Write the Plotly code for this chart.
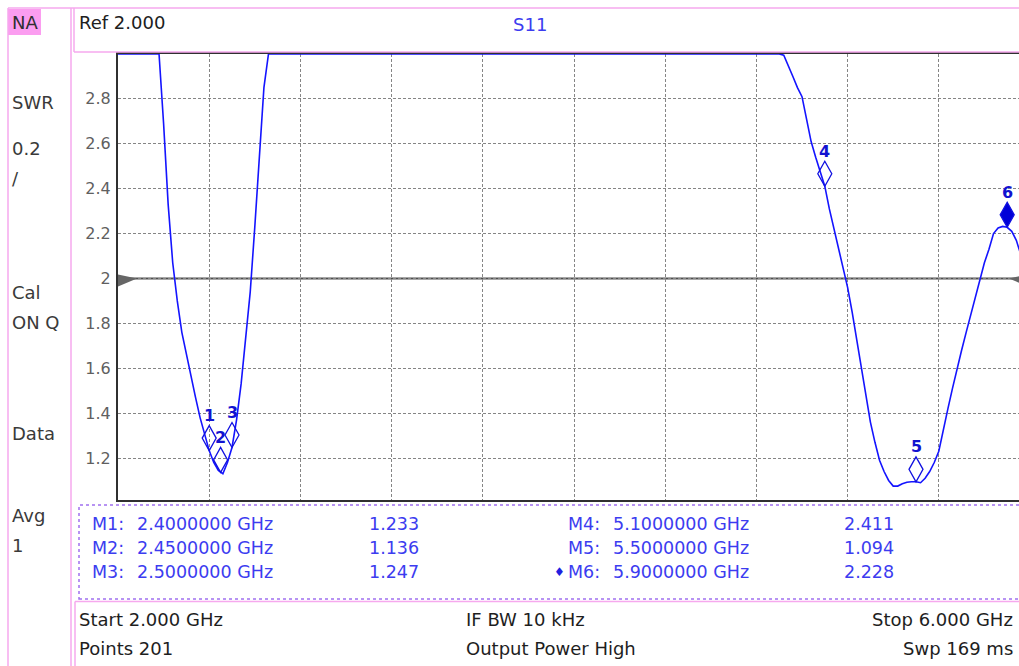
import plotly.graph_objects as go

# SWR trace, S11. Values that run off the top of the screen are shown clamped at the top (3.0).
FREQ_GHZ = [2.00, 2.18, 2.20, 2.22, 2.24, 2.26, 2.28, 2.30, 2.32, 2.34, 2.36, 2.38,
            2.40, 2.42, 2.44, 2.46, 2.48, 2.50, 2.52, 2.54, 2.56, 2.58, 2.60, 2.62,
            2.64, 2.66, 4.90, 4.92, 4.94, 4.96, 4.98, 5.00, 5.02, 5.04, 5.06, 5.08,
            5.10, 5.12, 5.14, 5.16, 5.18, 5.20, 5.22, 5.24, 5.26, 5.28, 5.30, 5.32,
            5.34, 5.36, 5.38, 5.40, 5.42, 5.44, 5.46, 5.48, 5.50, 5.52, 5.54, 5.56,
            5.58, 5.60, 5.62, 5.64, 5.66, 5.68, 5.70, 5.72, 5.74, 5.76, 5.78, 5.80,
            5.82, 5.84, 5.86, 5.88, 5.90, 5.92, 5.94, 5.96, 5.98, 6.00]
SWR = [3.0, 3.0, 2.69, 2.33, 2.07, 1.90, 1.76, 1.66, 1.57, 1.47, 1.38, 1.31,
       1.233, 1.18, 1.145, 1.13, 1.18, 1.247, 1.37, 1.53, 1.72, 1.94, 2.23, 2.54,
       2.85, 3.0, 3.0, 2.995, 2.95, 2.90, 2.85, 2.81, 2.71, 2.61, 2.54, 2.47,
       2.411, 2.31, 2.22, 2.14, 2.05, 1.96, 1.85, 1.73, 1.61, 1.48, 1.36, 1.27,
       1.19, 1.14, 1.10, 1.075, 1.075, 1.085, 1.092, 1.094, 1.094, 1.09, 1.11, 1.14,
       1.18, 1.23, 1.33, 1.42, 1.51, 1.60, 1.68, 1.76, 1.84, 1.92, 2.00, 2.07,
       2.13, 2.20, 2.225, 2.232, 2.228, 2.21, 2.17, 2.11, 2.04, 1.97]

MARKER_NAMES = ["1", "2", "3", "4", "5", "6"]
MARKER_FREQ = [2.40, 2.45, 2.50, 5.10, 5.50, 5.90]
MARKER_SWR = [1.233, 1.136, 1.247, 2.411, 1.094, 2.228]
MARKER_FREQ_TEXT = ["2.4000000 GHz", "2.4500000 GHz", "2.5000000 GHz",
                    "5.1000000 GHz", "5.5000000 GHz", "5.9000000 GHz"]
MARKER_VAL_TEXT = ["1.233", "1.136", "1.247", "2.411", "1.094", "2.228"]
ACTIVE_MARKER = 5

Y_TICKS = [1.2, 1.4, 1.6, 1.8, 2.0, 2.2, 2.4, 2.6, 2.8]
Y_TICK_LABELS = ["1.2", "1.4", "1.6", "1.8", "2", "2.2", "2.4", "2.6", "2.8"]
REF_VALUE = 2.0
START_GHZ, STOP_GHZ = 2.0, 6.0

SIDE_LABELS = ["SWR", "0.2", "/", "Cal", "ON Q", "Data", "Avg", "1"]
STATUS_LEFT = ["Start 2.000 GHz", "Points 201"]
STATUS_MID = ["IF BW 10 kHz", "Output Power High"]
STATUS_RIGHT = ["Stop 6.000 GHz", "Swp 169 ms"]

# ---------------- layout geometry ----------------
W, H = 1019, 666
PL, PT, PR, PB = 118, 54, 1019, 500
PX_PER_GHZ = 228.0
X_MAX = START_GHZ + (PR - PL) / PX_PER_GHZ
Y_RANGE = [1.013, 3.0]

FONT = "DejaVu Sans"
PINK = "#f6a9ee"
BLUE_TXT = "#3c3cf0"
TRACE_BLUE = "#1414ff"


def px(x):
    return (x - PL) / (PR - PL)


def py(y):
    return (PB - y) / (PB - PT)


fig = go.Figure()
fig.add_trace(go.Scatter(
    x=FREQ_GHZ, y=[min(v, Y_RANGE[1]) for v in SWR], mode="lines",
    line=dict(color=TRACE_BLUE, width=1.6), hoverinfo="skip", showlegend=False))

shapes = []
annotations = []

# reference line + arrows
shapes.append(dict(type="line", xref="paper", yref="y", x0=0, x1=1, y0=REF_VALUE, y1=REF_VALUE,
                   line=dict(color="#505050", width=2), layer="between"))
shapes.append(dict(type="path", xref="paper", yref="y", xsizemode="pixel", ysizemode="pixel",
                   xanchor=0, yanchor=REF_VALUE, path="M0,4 L19,0 L0,-8 Z",
                   fillcolor="#666666", line=dict(width=0)))
shapes.append(dict(type="path", xref="paper", yref="y", xsizemode="pixel", ysizemode="pixel",
                   xanchor=px(1028), yanchor=REF_VALUE, path="M0,4 L-19,0 L0,-8 Z",
                   fillcolor="#666666", line=dict(width=0)))

# markers
for i, (name, f, v) in enumerate(zip(MARKER_NAMES, MARKER_FREQ, MARKER_SWR)):
    active = (i == ACTIVE_MARKER)
    shapes.append(dict(type="path", xref="x", yref="y", xsizemode="pixel", ysizemode="pixel",
                       xanchor=f, yanchor=v, path="M0,0 L7,12.5 L0,25 L-7,12.5 Z",
                       line=dict(color="#1010e0", width=1.3),
                       fillcolor="#0000d8" if active else "rgba(0,0,0,0)"))
    annotations.append(dict(x=f, y=v, xref="x", yref="y", text="<b>%s</b>" % name,
                            showarrow=False, yshift=35,
                            font=dict(family=FONT, size=16, color="#1212d0")))

# frame chrome (pink boxes)
pline = dict(color=PINK, width=1.5)
shapes += [
    dict(type="rect", xref="paper", yref="paper", x0=px(8), x1=px(41), y0=py(35), y1=py(9),
         fillcolor="#fb9df0", line=dict(width=0)),
    dict(type="line", xref="paper", yref="paper", x0=px(8), x1=px(1030), y0=py(8), y1=py(8), line=pline),
    dict(type="line", xref="paper", yref="paper", x0=px(8), x1=px(8), y0=py(8), y1=py(670), line=pline),
    dict(type="line", xref="paper", yref="paper", x0=px(71), x1=px(71), y0=py(8), y1=py(670), line=pline),
    dict(type="line", xref="paper", yref="paper", x0=px(74), x1=px(74), y0=py(8), y1=py(52), line=pline),
    dict(type="line", xref="paper", yref="paper", x0=px(74), x1=px(1030), y0=py(52), y1=py(52), line=pline),
    dict(type="line", xref="paper", yref="paper", x0=px(75), x1=px(1030), y0=py(601.5), y1=py(601.5), line=pline),
    dict(type="line", xref="paper", yref="paper", x0=px(75), x1=px(75), y0=py(601.5), y1=py(670), line=pline),
    dict(type="rect", xref="paper", yref="paper", x0=px(79), x1=px(1030), y0=py(599), y1=py(505),
         line=dict(color="#a070f0", width=1.5, dash="dot")),
]


def text(x, y, s, size=18, color="#303030", anchor="left"):
    annotations.append(dict(x=px(x), y=py(y), xref="paper", yref="paper", text=s, showarrow=False,
                            xanchor=anchor, yanchor="middle",
                            font=dict(family=FONT, size=size, color=color)))


# header
text(10, 22, "NA", color="#303030")
text(77, 23, "Ref 2.000", color="#202020")
text(530, 24.5, "S11", color=BLUE_TXT, anchor="center")

# left side labels
for s, y in zip(SIDE_LABELS, [102, 149, 178, 292, 322, 433, 515, 545]):
    text(10, y, s, color="#3a3a3a")

# marker table
rows_y = [524, 548, 572]
for i in range(6):
    col = i // 3
    y = rows_y[i % 3]
    xm, xf, xv = (90, 135, 367) if col == 0 else (566, 611, 842)
    text(xm, y, "M%s:" % MARKER_NAMES[i], size=17.5, color=BLUE_TXT)
    text(xf, y, MARKER_FREQ_TEXT[i], size=17.5, color=BLUE_TXT)
    text(xv, y, MARKER_VAL_TEXT[i], size=17.5, color=BLUE_TXT)
    if i == ACTIVE_MARKER:
        text(567, y, "\u2666", size=12, color="#2020e0", anchor="right")

# status lines
for s, y in zip(STATUS_LEFT, [619, 648]):
    text(77, y, s, color="#1e1e1e")
for s, y in zip(STATUS_MID, [619, 648]):
    text(464, y, s, color="#1e1e1e")
for s, y in zip(STATUS_RIGHT, [619, 648]):
    text(1015, y, s, color="#1e1e1e", anchor="right")

grid = dict(showgrid=True, gridcolor="#858585", gridwidth=1.4, griddash="3px,2px")
fig.update_layout(
    width=W, height=H,
    margin=dict(l=PL, r=W - PR, t=PT, b=H - PB, pad=0),
    paper_bgcolor="white", plot_bgcolor="white",
    showlegend=False,
    xaxis=dict(range=[START_GHZ, X_MAX], tick0=START_GHZ, dtick=(STOP_GHZ - START_GHZ) / 10,
               showticklabels=False, ticks="", zeroline=False,
               showline=True, mirror=True, linecolor="#303030", linewidth=2,
               layer="below traces", **grid),
    yaxis=dict(range=Y_RANGE, tickvals=Y_TICKS, ticktext=Y_TICK_LABELS, ticks="",
               zeroline=False, showline=True, mirror=False, linecolor="#303030", linewidth=2,
               tickfont=dict(family=FONT, size=16, color="#606060"), ticklabelstandoff=2,
               layer="below traces", **grid),
    shapes=shapes, annotations=annotations,
)

fig.write_html("out.html", config={"displayModeBar": False},
               post_script="document.body.style.margin='0px';document.body.style.overflow='hidden';")
